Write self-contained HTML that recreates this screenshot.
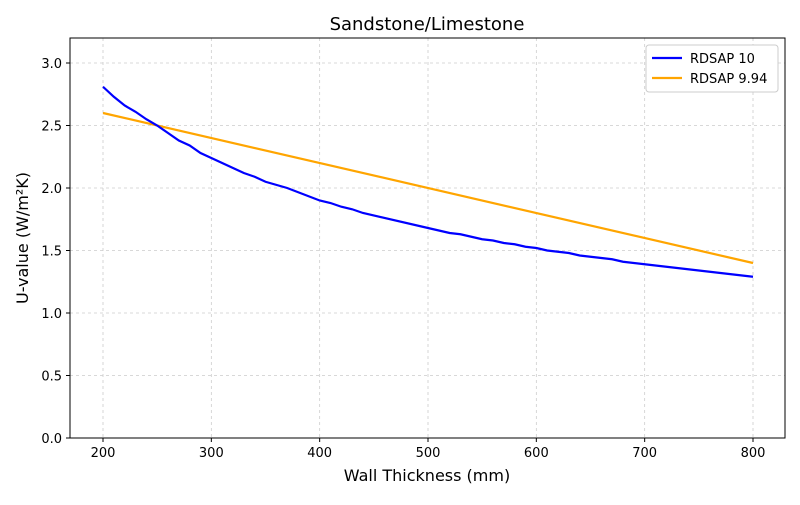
<!DOCTYPE html>
<html><head><meta charset="utf-8"><style>
body{margin:0;background:#fff}
svg text{font-family:"DejaVu Sans","Liberation Sans",sans-serif}
</style></head><body>
<svg id="s" width="800" height="500" xmlns="http://www.w3.org/2000/svg">
<rect width="800" height="500" fill="#fff"/>
<g id="grid" stroke="#cccccc" stroke-dasharray="3,3" stroke-width="0.8"></g>
<g id="ticks" font-size="13" fill="#000"></g>
<polyline id="orange" fill="none" stroke="#ffa500" stroke-width="2.2"/>
<polyline id="blue" fill="none" stroke="#0000ff" stroke-width="2.2"/>
<rect x="70" y="38" width="715" height="400" fill="none" stroke="#000" stroke-width="1"/>
<text x="427" y="30" font-size="18" text-anchor="middle">Sandstone/Limestone</text>
<text x="427" y="481" font-size="16" text-anchor="middle">Wall Thickness (mm)</text>
<text transform="translate(28,238) rotate(-90)" font-size="16" text-anchor="middle">U-value (W/m²K)</text>
<rect x="646" y="45" width="132" height="47" fill="#fff" stroke="#ccc" rx="3"/>
<line x1="652" y1="58" x2="682" y2="58" stroke="#0000ff" stroke-width="2.2"/>
<text x="690" y="63" font-size="13">RDSAP 10</text>
<line x1="652" y1="78" x2="682" y2="78" stroke="#ffa500" stroke-width="2.2"/>
<text x="690" y="83" font-size="13">RDSAP 9.94</text>
</svg>
<script>
const X=v=>103+(v-200)*650/600, Y=v=>438-v*125;
const ns="http://www.w3.org/2000/svg";
const g=document.getElementById('grid'), t=document.getElementById('ticks');
function el(p,n,a,txt){const e=document.createElementNS(ns,n);for(const k in a)e.setAttribute(k,a[k]);if(txt)e.textContent=txt;p.appendChild(e);}
for(let v=200;v<=800;v+=100){const x=X(v);el(g,'line',{x1:x,x2:x,y1:38,y2:438});el(t,'line',{x1:x,x2:x,y1:438,y2:442,stroke:'#000'});el(t,'text',{x:x,y:457,'text-anchor':'middle'},String(v));}
for(let i=0;i<=6;i++){const v=i*0.5,y=Y(v);el(g,'line',{x1:70,x2:785,y1:y,y2:y});el(t,'line',{x1:66,x2:70,y1:y,y2:y,stroke:'#000'});el(t,'text',{x:62,y:y+5,'text-anchor':'end'},v.toFixed(1));}
const b=[[200,2.81],[210,2.73],[220,2.66],[230,2.61],[240,2.55],[250,2.5],[260,2.44],[270,2.38],[280,2.34],[290,2.28],[300,2.24],[320,2.16],[330,2.12],[340,2.09],[350,2.05],[370,2.0],[400,1.9],[410,1.88],[420,1.85],[430,1.83],[440,1.8],[500,1.68],[520,1.64],[530,1.63],[550,1.59],[560,1.58],[570,1.56],[580,1.55],[590,1.53],[600,1.52],[610,1.5],[630,1.48],[640,1.46],[670,1.43],[680,1.41],[700,1.39],[800,1.29]];
document.getElementById('blue').setAttribute('points',b.map(p=>X(p[0])+','+Y(p[1])).join(' '));
document.getElementById('orange').setAttribute('points',X(200)+','+Y(2.6)+' '+X(800)+','+Y(1.4));
</script>
</body></html>
